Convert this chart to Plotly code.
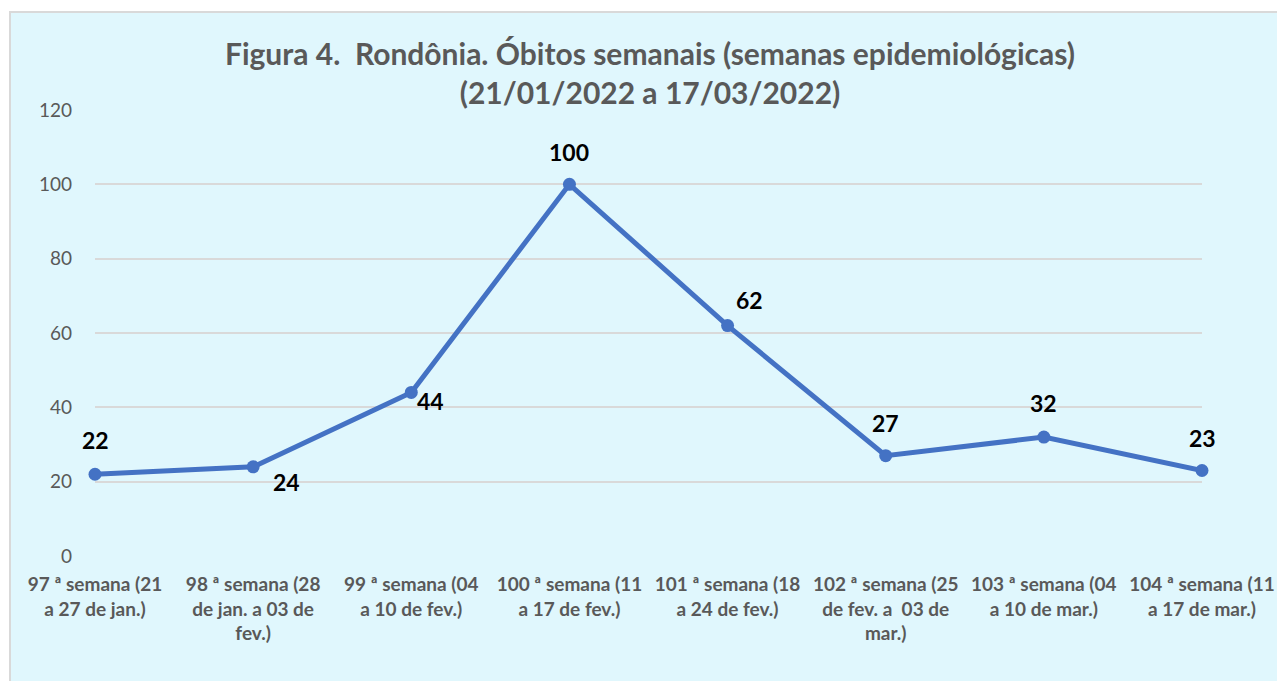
import plotly.graph_objects as go

categories = [
    "97 ª semana (21<br>a 27 de jan.)",
    "98 ª semana (28<br>de jan. a 03 de<br>fev.)",
    "99 ª semana (04<br>a 10 de fev.)",
    "100 ª semana (11<br>a 17 de fev.)",
    "101 ª semana (18<br>a 24 de fev.)",
    "102 ª semana (25<br>de fev. a  03 de<br>mar.)",
    "103 ª semana (04<br>a 10 de mar.)",
    "104 ª semana (11<br>a 17 de mar.)",
]
obitos = [22, 24, 44, 100, 62, 27, 32, 23]
label_dx = [0, 33, 19, 0, 22, 0, 0, 0]
label_dy = [34, -15, -9, 32, 26, 33, 34, 33]
y_ticks = [0, 20, 40, 60, 80, 100, 120]

W, H = 1285, 681
OFF = 8  # page body margin
ml, mt = 95 - OFF, 110 - OFF
pw, ph = 1107, 446
mr, mb = W - ml - pw, H - mt - ph

xs = list(range(len(categories)))
fig = go.Figure()
fig.add_trace(go.Scatter(
    x=xs, y=obitos,
    mode="lines+markers",
    line=dict(color="#4472C4", width=5),
    marker=dict(color="#4472C4", size=13),
    cliponaxis=False,
    showlegend=False,
))

for x, v, dx, dy in zip(xs, obitos, label_dx, label_dy):
    fig.add_annotation(x=x, y=v, text=str(v), showarrow=False,
                       xshift=dx, yshift=dy,
                       font=dict(family="Lato", size=23, color="#000000", weight="bold"))

# panel background
fig.add_shape(type="rect", xref="paper", yref="paper", layer="below",
              x0=(10 - OFF - ml) / pw, x1=1.3, y0=-0.6, y1=1 + (mt - (12 - OFF)) / ph,
              fillcolor="#E0F7FD", line=dict(color="#D9D9D9", width=2))

fig.update_layout(
    width=W, height=H,
    margin=dict(l=ml, r=mr, t=mt, b=mb, autoexpand=False),
    paper_bgcolor="white", plot_bgcolor="rgba(0,0,0,0)",
    title=dict(
        text="Figura 4.  Rondônia. Óbitos semanais (semanas epidemiológicas)<br>(21/01/2022 a 17/03/2022)",
        x=(650 - OFF) / W, xanchor="center", y=1 - 57 / H, yanchor="top",
        font=dict(family="Lato", size=30, color="#595959", weight="bold"),
    ),
    xaxis=dict(
        tickmode="array", tickvals=xs, ticktext=categories,
        range=[0, len(categories) - 1], showgrid=False, zeroline=False,
        showline=False, ticks="", automargin=False,
        tickfont=dict(family="Lato", size=19, color="#595959", weight="bold"),
        ticklabelstandoff=15,
    ),
    yaxis=dict(
        range=[0, 120], tickvals=y_ticks, showgrid=True, gridcolor="#D9D9D9",
        gridwidth=1.5, zeroline=False, showline=False, ticks="", automargin=False,
        tickfont=dict(family="Lato", size=19, color="#595959"),
        ticklabelstandoff=22,
    ),
    font=dict(family="Lato"),
)

fig.write_html("out.html")
